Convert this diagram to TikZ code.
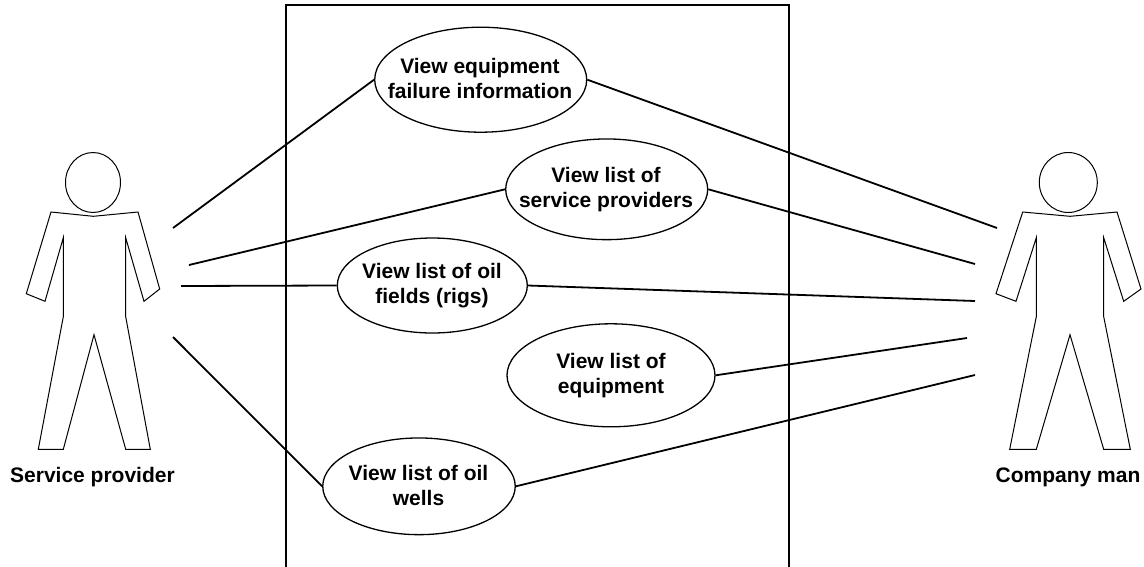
\documentclass[tikz,border=0pt]{standalone}
\usepackage{fontspec}
\setmainfont{Liberation Sans}
\usetikzlibrary{shapes.geometric}
\tikzset{
  usecase/.style={draw=black,line width=1.3pt,fill=white,ellipse,inner sep=0pt},
  uctext/.style={align=center,inner sep=0pt,anchor=base,font=\fontsize{21}{25}\selectfont\bfseries},
  link/.style={draw=black,line width=1.8pt},
  actorline/.style={draw=black,line width=1pt,line join=miter},
  actorname/.style={font=\fontsize{21}{24}\selectfont\bfseries,inner sep=0pt,anchor=base},
  frame/.style={draw=black,line width=1.6pt}
}
\begin{document}
\begin{tikzpicture}[x=1pt,y=-1pt]
\useasboundingbox (0,0) rectangle (1144,566);
\coordinate (fbl) at (286,570);
\coordinate (ftl) at (286,5);
\coordinate (ftr) at (789,5);
\coordinate (fbr) at (789,570);
\begin{scope}
\clip (0,0) rectangle (1144,566);
\draw[frame] (fbl) -- (ftl) -- (ftr) -- (fbr);
\end{scope}
% left actor
\node[draw=black,line width=1pt,ellipse,minimum width=55pt,minimum height=60pt,inner sep=0pt] (headL) at (93,182.5) {};
\draw[actorline] (51,212) -- (93.3,216.3) -- (138,212) -- (159.7,289) -- (144,301.3) -- (125.7,237.7) -- (125.7,316.7) -- (150.3,449.3) -- (125.7,449.3) -- (94,334.7) -- (63.3,449.3) -- (38.3,449.3) -- (63.3,316.7) -- (63.3,237.7) -- (45,301.3) -- (26.3,293.7) -- cycle;
% right actor
\node[draw=black,line width=1pt,ellipse,minimum width=58pt,minimum height=60pt,inner sep=0pt] (headR) at (1068.3,182.5) {};
\draw[actorline] (1022.7,212) -- (1070,216.3) -- (1117,212) -- (1141,289) -- (1123.7,301.3) -- (1103.7,237.7) -- (1103.7,316.7) -- (1130.3,449.3) -- (1103.7,449.3) -- (1070,334.7) -- (1036.3,449.3) -- (1009.7,449.3) -- (1036.3,316.7) -- (1036.3,237.7) -- (1016,301.3) -- (996,293.7) -- cycle;
\node[actorname] (nameL) at (92.5,482) {Service provider};
\node[actorname] (nameR) at (1068,482) {Company man};
% free ends
\coordinate (a1) at (173,228);
\coordinate (a2) at (189,265);
\coordinate (a3) at (181,286);
\coordinate (a4) at (173,337);
\coordinate (b1) at (997,228);
\coordinate (b2) at (975,264);
\coordinate (b3) at (975,301);
\coordinate (b4) at (967,338);
\coordinate (b5) at (975,375);
% use cases
\node[usecase,minimum width=212pt,minimum height=105pt] (u1) at (480.7,79.7) {};
\node[usecase,minimum width=202pt,minimum height=100.7pt] (u2) at (606.7,189.3) {};
\node[usecase,minimum width=190pt,minimum height=95pt] (u3) at (432.3,285.5) {};
\node[usecase,minimum width=208pt,minimum height=103pt] (u4) at (611,375.3) {};
\node[usecase,minimum width=192.5pt,minimum height=96.7pt] (u5) at (419,486.3) {};
\node[uctext] (t1) at (480,98.3) {View equipment\\failure information};
\node[uctext] (t2) at (606,207.3) {View list of\\service providers};
\node[uctext] (t3) at (432,303.3) {View list of oil\\fields (rigs)};
\node[uctext] (t4) at (611,393.3) {View list of\\equipment};
\node[uctext] (t5) at (418.5,505) {View list of oil\\wells};
% connectors
\draw[link] (a1) -- (u1.west);
\draw[link] (a2) -- (u2.west);
\draw[link] (a3) -- (u3.west);
\draw[link] (a4) -- (u5.west);
\draw[link] (u1.east) -- (b1);
\draw[link] (u2.east) -- (b2);
\draw[link] (u3.east) -- (b3);
\draw[link] (u4.east) -- (b4);
\draw[link] (u5.east) -- (b5);
\end{tikzpicture}
\end{document}
